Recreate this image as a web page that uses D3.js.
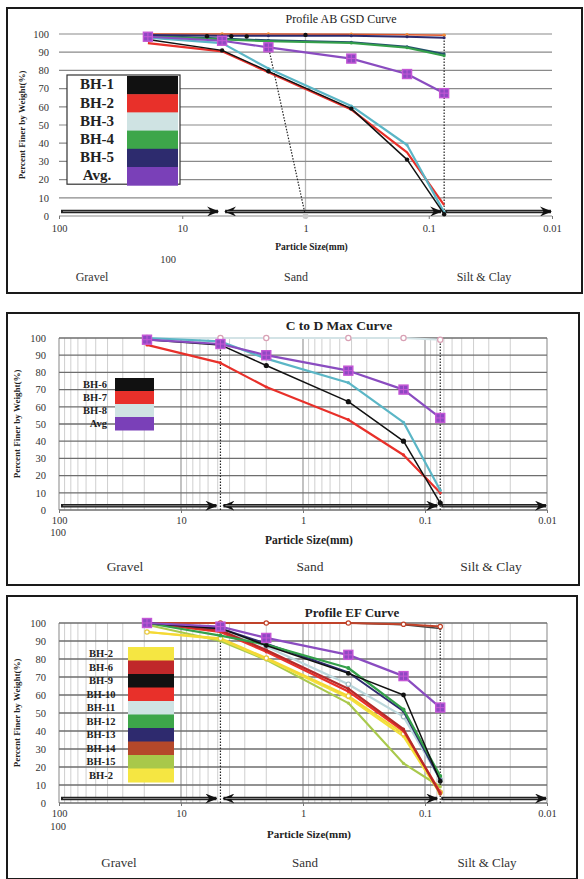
<!DOCTYPE html>
<html>
<head>
<meta charset="utf-8">
<script src="https://cdn.jsdelivr.net/npm/d3@7.9.0/dist/d3.min.js"></script>
<style>
  body { margin: 0; background: #fff; }
  svg { display: block; font-family: "Liberation Serif", "Times New Roman", serif; }
</style>
</head>
<body>
<svg id="chart" width="584" height="879"></svg>
<script>
// sieve sizes in mm, shared by all three curves
const sieveSizes = [19, 4.75, 2, 0.425, 0.15, 0.075];
const sizeTicks = [100, 10, 1, 0.1, 0.01];
const sizeTickLabels = ['100', '10', '1', '0.1', '0.01'];
const percentTicks = [0, 10, 20, 30, 40, 50, 60, 70, 80, 90, 100];
const zoneLabels = ['Gravel', 'Sand', 'Silt & Clay'];

// Profile AB GSD Curve
const abLegend = ['BH-1', 'BH-2', 'BH-3', 'BH-4', 'BH-5', 'Avg.'];
const abBH1 = [97, 91, 79.5, 59, 31, 1];
const abBH2 = [95, 90.5, 79, 58.5, 35, 6];
const abBH3 = [98, 95, 81, 60.5, 39, 2];
const abBH4 = [99, 97, 96, 95, 92.5, 88];
const abBH5 = [99.5, 99, 99, 99, 98.5, 98];
const abAvg = [98.5, 96.3, 92.7, 86.5, 78, 67.5];
const abTop = [100, 100, 100, 99.8, 99.6, 99.3];
const abSlate = [99, 97.5, 96.5, 95.5, 93, 89];
const abDotSizes = [6.3, 4, 3, 1];
const abDots = [98.8, 98.8, 98.6, 99.5];

// C to D Max Curve
const cdLegend = ['BH-6', 'BH-7', 'BH-8', 'Avg'];
const cdBH6 = [99, 96, 84, 63, 40, 4];
const cdBH7 = [96, 85.5, 71.5, 52.5, 32, 10];
const cdBH8 = [100, 98, 88, 74, 51, 11.5];
const cdAvg = [99, 96.5, 90, 81, 70, 53.5];
const cdTop = [100, 100, 100, 100, 100, 99];

// Profile EF Curve
const efLegend = ['BH-2', 'BH-6', 'BH-9', 'BH-10', 'BH-11', 'BH-12', 'BH-13', 'BH-14', 'BH-15', 'BH-2'];
const efBH2 = [95, 91, 80, 58.5, 37, 5];
const efBH6 = [100, 96, 85, 63.5, 41, 5];
const efBH9 = [100, 97, 87.5, 72, 60, 12];
const efBH10 = [100, 95, 84, 62, 40, 6];
const efBH11 = [100, 96, 87, 66, 48, 13];
const efBH12 = [100, 93, 88, 75, 52, 15];
const efBH13 = [100, 97, 88.5, 72.5, 51, 13];
const efBH14 = [100, 100, 100, 100, 99.3, 98];
const efBH15 = [99, 90, 79.5, 55.5, 22, 9];
const efBH2b = [95, 91.5, 80.5, 59.5, 38.5, 6];
const efAvg = [100, 98, 91.7, 82.3, 70.5, 53];
const efTop = [100, 100, 100, 100, 99, 97];

const svg = d3.select('#chart');

// arrowhead
svg.append('defs').append('marker')
  .attr('id', 'head')
  .attr('viewBox', '0 0 12 10')
  .attr('refX', 11).attr('refY', 5)
  .attr('markerWidth', 12).attr('markerHeight', 10)
  .attr('markerUnits', 'userSpaceOnUse')
  .attr('orient', 'auto-start-reverse')
  .append('path')
  .attr('d', 'M0,0 L12,5 L0,10 L4,5 Z')
  .attr('fill', '#111');

const panels = [
  {
    frame: [7, 8, 575, 285],
    plot: { left: 59, right: 552, top: 34, bottom: 216 },
    title: 'Profile AB GSD Curve', titleBold: false, titleSize: 12, titleX: 341, titleY: 23,
    minorGrid: false,
    yLabelX: 25, xLabelY: 250, xLabelSize: 9.5, tickLabelY: 13,
    extra100: [168, 263], zoneY: 281, zoneSize: 12, zoneX: [92, 296, 484],
    dotted: [[0.075, 0.075, 0, 100], [2, 1, 93, 0]],
    grayLine: 1,
    series: [
      { values: abTop, color: '#e0562a', width: 1.5, marker: 'dot', r: 1.8, mcolor: '#f08a3a' },
      { values: abSlate, color: '#24506a', width: 2, marker: 'dot', r: 1.5 },
      { values: abBH4, color: '#34a04a', width: 2, marker: 'dot', r: 1.5 },
      { values: abBH5, color: '#2d2b6e', width: 2, marker: 'dot', r: 1.5 },
      { sizes: abDotSizes, values: abDots, color: '#111', width: 0, marker: 'dot', r: 2.2 },
      { values: abBH2, color: '#e8302a', width: 2.2, marker: 'none' },
      { values: abBH3, color: '#5bb6c6', width: 2.2, marker: 'dot', r: 1.5 },
      { values: abBH1, color: '#111', width: 1.5, marker: 'dot', r: 2.2 },
      { values: abAvg, color: '#8a4cc0', width: 2.2, marker: 'square', s: 9 }
    ],
    legend: {
      names: abLegend, box: true, x: 67, y: 75, labelW: 60, swatchW: 51, rowH: 18.2,
      fontSize: 15,
      colors: ['#111', '#e8302a', '#cfe3e3', '#3da64a', '#2d2b6e', '#7a40b8']
    }
  },
  {
    frame: [7, 313, 572, 272],
    plot: { left: 59, right: 547, top: 338, bottom: 510 },
    title: 'C to D Max Curve', titleBold: true, titleSize: 13.5, titleX: 339, titleY: 330,
    minorGrid: true,
    yLabelX: 20, xLabelY: 544, xLabelSize: 11.5, tickLabelY: 11,
    extra100: [58, 536], zoneY: 571, zoneSize: 13.5, zoneX: [125, 310, 491],
    dotted: [[4.75, 4.75, 0, 100], [0.075, 0.075, 0, 100]],
    grayLine: null,
    series: [
      { values: cdTop, color: '#d3e3e6', width: 2, marker: 'ring', r: 2.6, mcolor: '#d8a0b4' },
      { values: cdBH7, color: '#e8302a', width: 2.2, marker: 'dot', r: 1.6 },
      { values: cdBH8, color: '#5bb6c6', width: 2.2, marker: 'dot', r: 1.6 },
      { values: cdBH6, color: '#111', width: 1.5, marker: 'dot', r: 2.6 },
      { values: cdAvg, color: '#8a4cc0', width: 2.2, marker: 'square', s: 9 }
    ],
    legend: {
      names: cdLegend, box: false, x: 115, y: 378, labelRight: 107, swatchW: 39, rowH: 13,
      fontSize: 10.5,
      colors: ['#111', '#e8302a', '#cfe3e3', '#7a40b8']
    }
  },
  {
    frame: [7, 596, 570, 283],
    plot: { left: 59, right: 547, top: 623, bottom: 803 },
    title: 'Profile EF Curve', titleBold: true, titleSize: 13, titleX: 352, titleY: 617,
    minorGrid: true,
    yLabelX: 20, xLabelY: 838, xLabelSize: 11, tickLabelY: 11,
    extra100: [58, 830], zoneY: 867, zoneSize: 13, zoneX: [119, 305, 487],
    dotted: [[4.75, 4.75, 0, 100], [0.075, 0.075, 0, 100]],
    grayLine: null,
    series: [
      { values: efTop, color: '#444', width: 1.5, marker: 'dot', r: 1.5 },
      { values: efBH14, color: '#c0432a', width: 2, marker: 'ring', r: 2.2, mcolor: '#c0432a' },
      { values: efBH15, color: '#a9c94c', width: 2.2, marker: 'dot', r: 1.6 },
      { values: efBH2, color: '#f2e23c', width: 2.2, marker: 'dot', r: 1.6 },
      { values: efBH2b, color: '#f5d836', width: 2.2, marker: 'ring', r: 2.2, mcolor: '#e8c83a' },
      { values: efBH11, color: '#bcd7dc', width: 2.2, marker: 'ring', r: 2.2, mcolor: '#9fb8c0' },
      { values: efBH10, color: '#e8302a', width: 2.2, marker: 'dot', r: 1.6 },
      { values: efBH6, color: '#b52a2a', width: 2.2, marker: 'dot', r: 1.6 },
      { values: efBH13, color: '#2d2b6e', width: 2, marker: 'dot', r: 1.6 },
      { values: efBH12, color: '#34a04a', width: 2.2, marker: 'dot', r: 2 },
      { values: efBH9, color: '#111', width: 1.5, marker: 'dot', r: 2.4 },
      { values: efAvg, color: '#8a4cc0', width: 2.2, marker: 'square', s: 9 }
    ],
    legend: {
      names: efLegend, box: false, x: 128, y: 647, labelMid: 101, swatchW: 46, rowH: 13.5,
      fontSize: 10.5,
      colors: ['#f5e642', '#c0282a', '#111', '#e8302a', '#cfe3e3', '#3da64a', '#2e2a6e', '#b5482a', '#a8c84a', '#f5e642']
    }
  }
];

panels.forEach(drawPanel);

function drawPanel(p) {
  const g = svg.append('g');
  const [fx, fy, fw, fh] = p.frame;
  g.append('rect')
    .attr('x', fx).attr('y', fy).attr('width', fw).attr('height', fh)
    .attr('fill', '#fff').attr('stroke', '#1a1a1a').attr('stroke-width', 2);

  const x = d3.scaleLog().domain([100, 0.01]).range([p.plot.left, p.plot.right]);
  const y = d3.scaleLinear().domain([0, 100]).range([p.plot.bottom, p.plot.top]);

  // vertical log grid
  if (p.minorGrid) {
    g.append('g').selectAll('line')
      .data(x.ticks())
      .join('line')
      .attr('x1', d => x(d)).attr('x2', d => x(d))
      .attr('y1', y(0)).attr('y2', y(100))
      .attr('stroke', d => sizeTicks.includes(d) ? '#9a9a9a' : '#cfcfcf')
      .attr('stroke-width', d => sizeTicks.includes(d) ? 1.2 : 1);
  }
  if (p.grayLine) {
    g.append('line')
      .attr('x1', x(p.grayLine)).attr('x2', x(p.grayLine))
      .attr('y1', y(0)).attr('y2', y(100))
      .attr('stroke', '#b8b8b8').attr('stroke-width', 1.3);
  }

  // horizontal grid
  g.append('g').selectAll('line')
    .data(percentTicks)
    .join('line')
    .attr('x1', p.plot.left).attr('x2', p.plot.right)
    .attr('y1', d => y(d)).attr('y2', d => y(d))
    .attr('stroke', p.minorGrid ? '#6e6e6e' : '#8a8a8a')
    .attr('stroke-width', p.minorGrid ? 1.3 : 1.2);

  // axes
  const xAxis = g.append('g')
    .attr('transform', `translate(0,${p.plot.bottom})`)
    .call(d3.axisBottom(x).tickValues(sizeTicks)
      .tickFormat((d, i) => sizeTickLabels[i]).tickSize(3).tickPadding(p.tickLabelY - 7));
  xAxis.select('.domain').remove();
  xAxis.selectAll('line').attr('stroke', '#777');
  xAxis.selectAll('text').attr('font-size', 10.5).attr('fill', '#333')
    .attr('font-family', '"Liberation Serif", serif');

  const yAxis = g.append('g')
    .attr('transform', `translate(${p.plot.left},0)`)
    .call(d3.axisLeft(y).tickValues(percentTicks).tickSize(0).tickPadding(p.minorGrid ? 13 : 10));
  yAxis.select('.domain').remove();
  yAxis.selectAll('text').attr('font-size', 10.5).attr('fill', '#333')
    .attr('font-family', '"Liberation Serif", serif');

  // titles and labels
  g.append('text')
    .attr('x', p.titleX).attr('y', p.titleY)
    .attr('text-anchor', 'middle')
    .attr('font-size', p.titleSize)
    .attr('font-weight', p.titleBold ? 'bold' : 'normal')
    .attr('fill', '#222')
    .text(p.title);

  g.append('text')
    .attr('transform', `translate(${p.yLabelX},${(p.plot.top + p.plot.bottom) / 2})`
      + ' rotate(-90)')
    .attr('text-anchor', 'middle')
    .attr('font-size', 9)
    .attr('font-weight', 'bold')
    .attr('fill', '#222')
    .text('Percent Finer by Weight(%)');

  g.append('text')
    .attr('x', (p.plot.left + p.plot.right) / 2 + 6).attr('y', p.xLabelY)
    .attr('text-anchor', 'middle')
    .attr('font-size', p.xLabelSize)
    .attr('font-weight', 'bold')
    .attr('fill', '#222')
    .text('Particle Size(mm)');

  g.append('text')
    .attr('x', p.extra100[0]).attr('y', p.extra100[1])
    .attr('text-anchor', 'middle')
    .attr('font-size', 10.5).attr('fill', '#333')
    .text('100');

  g.selectAll('.zone')
    .data(zoneLabels)
    .join('text')
    .attr('x', (d, i) => p.zoneX[i]).attr('y', p.zoneY)
    .attr('text-anchor', 'middle')
    .attr('font-size', p.zoneSize).attr('fill', '#333')
    .text(d => d);

  // classification arrows
  const ay = y(2.5);
  const arrows = [
    [x(100) + 2, x(4.75) - 4, false],
    [x(4.75) + 3, x(0.075) - 3, true],
    [x(0.075) + 1, x(0.01) - 1, false]
  ];
  arrows.forEach(([a, b, both]) => {
    g.append('line')
      .attr('x1', a).attr('x2', b).attr('y1', ay).attr('y2', ay)
      .attr('stroke', '#222').attr('stroke-width', 3.5)
      .attr('marker-end', 'url(#head)')
      .attr('marker-start', both ? 'url(#head)' : null);
    g.append('line')
      .attr('x1', a + 2).attr('x2', b - 8).attr('y1', ay).attr('y2', ay)
      .attr('stroke', '#999').attr('stroke-width', 0.8);
  });

  // dotted boundary lines
  p.dotted.forEach(([s0, s1, v0, v1]) => {
    g.append('line')
      .attr('x1', x(s0)).attr('x2', x(s1))
      .attr('y1', y(v0)).attr('y2', y(v1))
      .attr('stroke', '#222').attr('stroke-width', 1.2)
      .attr('stroke-dasharray', '1.5,1.5');
  });
  if (p.grayLine) {
    g.append('circle').attr('cx', x(p.grayLine)).attr('cy', y(0)).attr('r', 3)
      .attr('fill', '#ccc');
  }

  // series
  const line = d3.line()
    .x(d => x(d[0]))
    .y(d => y(d[1]));

  p.series.forEach(s => {
    const pts = (s.sizes || sieveSizes).map((sz, i) => [sz, s.values[i]]);
    if (s.width > 0) {
      g.append('path')
        .datum(pts)
        .attr('d', line)
        .attr('fill', 'none')
        .attr('stroke', s.color)
        .attr('stroke-width', s.width)
        .attr('stroke-linejoin', 'round');
    }
    if (s.marker === 'dot') {
      g.append('g').selectAll('circle').data(pts).join('circle')
        .attr('cx', d => x(d[0])).attr('cy', d => y(d[1]))
        .attr('r', s.r).attr('fill', s.mcolor || s.color);
    } else if (s.marker === 'ring') {
      g.append('g').selectAll('circle').data(pts).join('circle')
        .attr('cx', d => x(d[0])).attr('cy', d => y(d[1]))
        .attr('r', s.r).attr('fill', '#fff')
        .attr('stroke', s.mcolor).attr('stroke-width', 1.2);
    } else if (s.marker === 'square') {
      const m = g.append('g').selectAll('g').data(pts).join('g')
        .attr('transform', d => `translate(${x(d[0])},${y(d[1])})`);
      m.append('rect')
        .attr('x', -s.s / 2).attr('y', -s.s / 2).attr('width', s.s).attr('height', s.s)
        .attr('fill', '#8e48c2').attr('stroke', '#c457d6').attr('stroke-width', 1.4);
      m.append('path')
        .attr('d', `M${-s.s / 2},0H${s.s / 2}M0,${-s.s / 2}V${s.s / 2}`)
        .attr('stroke', '#c457d6').attr('stroke-width', 1);
    }
  });

  // legend
  const L = p.legend;
  const lg = g.append('g');
  if (L.box) {
    lg.append('rect')
      .attr('x', L.x).attr('y', L.y)
      .attr('width', L.labelW + L.swatchW + 2).attr('height', L.rowH * L.names.length)
      .attr('fill', '#fff').attr('stroke', '#333').attr('stroke-width', 1.2);
  }
  const swX = L.box ? L.x + L.labelW : L.x;
  lg.selectAll('.sw').data(L.names).join('rect')
    .attr('x', swX).attr('y', (d, i) => L.y + i * L.rowH + (L.box ? 1 : 0))
    .attr('width', L.swatchW).attr('height', L.rowH + 0.5)
    .attr('fill', (d, i) => L.colors[i]);
  lg.selectAll('.lb').data(L.names).join('text')
    .attr('x', L.box ? L.x + L.labelW / 2 : (L.labelRight || L.labelMid))
    .attr('y', (d, i) => L.y + (i + 0.5) * L.rowH)
    .attr('dy', '0.35em')
    .attr('text-anchor', L.box || L.labelMid ? 'middle' : 'end')
    .attr('font-size', L.fontSize)
    .attr('font-weight', 'bold')
    .attr('fill', '#222')
    .text(d => d);
}
</script>
</body>
</html>
